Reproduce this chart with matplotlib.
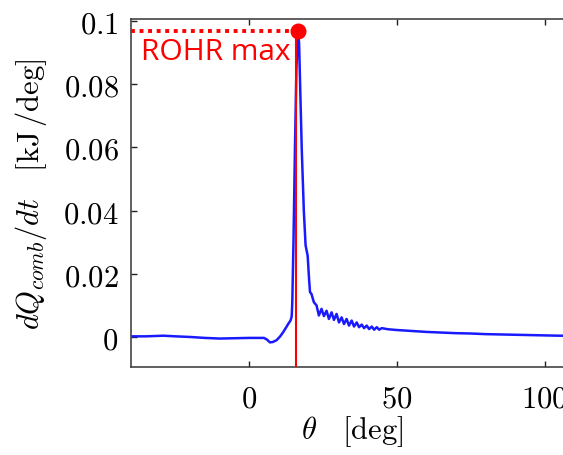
import matplotlib
matplotlib.use("Agg")
import matplotlib.pyplot as plt

plt.rcParams['mathtext.fontset'] = 'cm'

# data
theta = [-40, -35, -29, -25, -20, -15, -10, -5, 0, 3, 5, 6, 7, 8, 9.3, 10.5, 11.5, 12.5,
         13.2, 14.0, 14.4, 14.6, 15.0, 15.5, 16.0, 16.5, 16.9, 17.3, 17.8, 18.5, 19.1,
         19.8, 20.3, 20.6, 21.1, 21.9, 22.8, 23.6, 24.5, 25.3, 26.2, 27.0, 27.9, 28.7,
         29.6, 30.4, 31.3, 32.1, 33.0, 33.8, 34.7, 35.5, 36.4, 37.2, 38.1, 38.9, 39.8,
         40.6, 41.5, 42.3, 43.2, 44.0, 44.9, 45.5, 46.6, 47.5, 50, 55, 60, 65, 70, 75,
         80, 85, 90, 95, 100, 105, 110]
dq = [0.0002, 0.0002, 0.0004, 0.0002, 0.0000, -0.0003, -0.0005, -0.0004, -0.0003,
      -0.0003, -0.0003, -0.0008, -0.0017, -0.0016, -0.0010, 0.0002, 0.0015, 0.0030,
      0.0041, 0.0052, 0.0065, 0.0110, 0.0300, 0.0595, 0.0850, 0.0968, 0.0930, 0.0780,
      0.0595, 0.0400, 0.0290, 0.0257, 0.0180, 0.0142, 0.0136, 0.0110, 0.0100, 0.0068,
      0.0089, 0.0066, 0.0083, 0.0057, 0.0078, 0.0054, 0.0073, 0.0046, 0.0062, 0.0041,
      0.0057, 0.0036, 0.0052, 0.0033, 0.0046, 0.0031, 0.0039, 0.0028, 0.0036, 0.0025,
      0.0033, 0.0023, 0.0031, 0.0023, 0.0028, 0.0027, 0.0025, 0.0024, 0.0022, 0.0019,
      0.0016, 0.0014, 0.0012, 0.0011, 0.0009, 0.0008, 0.0007, 0.0006, 0.0005, 0.0004,
      0.0004]

rohr_max_theta = 16.5
rohr_max_value = 0.0968
rohr_line_theta = 16.0

xticks = [0, 50, 100]
xtick_labels = [r'$0$', r'$50$', r'$100$']
yticks = [0, 0.02, 0.04, 0.06, 0.08, 0.1]
ytick_labels = [r'$0$', r'$0.02$', r'$0.04$', r'$0.06$', r'$0.08$', r'$0.1$']

xlim = (-40, 110)
ylim = (-0.0095, 0.1006)

fig = plt.figure(figsize=(5.63, 4.56), dpi=100)
ax = fig.add_axes([0.2327, 0.193, 0.787, 0.763])

ax.plot(theta, dq, color='#1a1aff', lw=1.8, zorder=2)
ax.plot([rohr_line_theta, rohr_line_theta], [ylim[0], rohr_max_value], color='red', lw=1.5, zorder=3)
ax.plot([xlim[0], rohr_max_theta], [rohr_max_value, rohr_max_value], color='red', lw=2.8,
        linestyle=(0, (1, 1.2)), zorder=3, clip_on=False)
ax.plot([rohr_max_theta], [rohr_max_value], 'o', color='red', ms=10.5, zorder=4, clip_on=False)
ax.text(-36.5, 0.088, 'ROHR max', color='red', fontsize=21.5, family='Open Sans',
        va='baseline', ha='left')

ax.set_xlim(*xlim)
ax.set_ylim(*ylim)
ax.set_xticks(xticks)
ax.set_xticklabels(xtick_labels)
ax.set_yticks(yticks)
ax.set_yticklabels(ytick_labels)
ax.tick_params(direction='in', length=4, width=1, top=True, right=True, labelsize=22,
               color='#222222')
ax.tick_params(axis='y', pad=9)
ax.tick_params(axis='x', pad=12)
for s in ax.spines.values():
    s.set_color('#444444')
    s.set_linewidth(1.2)

ax.set_xlabel(r'$\theta\quad[\mathrm{deg}]$', fontsize=22, labelpad=0)
ax.set_ylabel(r'$dQ_{comb}/dt\quad[\mathrm{kJ}\,/\mathrm{deg}]$', fontsize=22, labelpad=10)

fig.savefig('out.png', dpi=100)
